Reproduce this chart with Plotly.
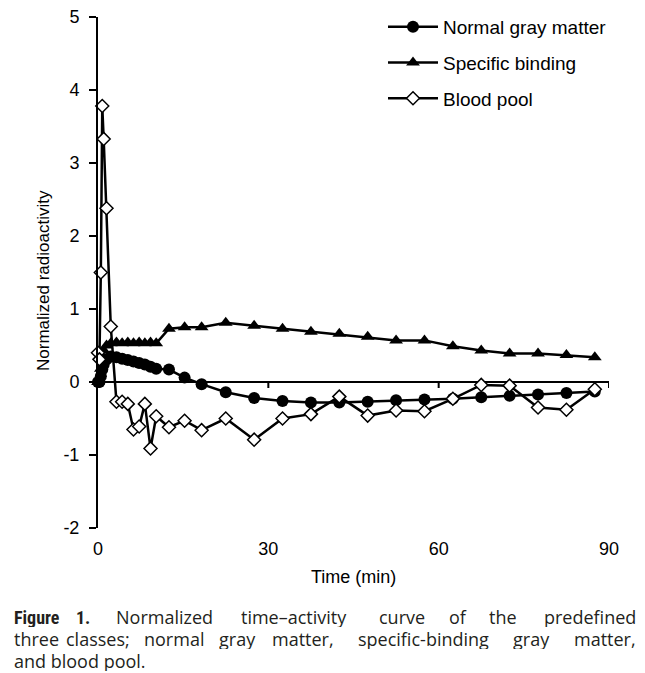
import plotly.graph_objects as go

# ---------------- data ----------------
time_min = [0, 0.25, 0.5, 0.75, 1.0, 1.5, 2.25,
            3.25, 4.25, 5.25, 6.25, 7.25, 8.25, 9.25, 10.25,
            12.5, 15.25, 18.25,
            22.5, 27.5, 32.5, 37.5, 42.5, 47.5, 52.5, 57.5, 62.5, 67.5, 72.5, 77.5, 82.5, 87.5]

normal_gray_matter = [0.0, 0.0, 0.08, 0.17, 0.24, 0.31, 0.35,
                      0.34, 0.32, 0.30, 0.28, 0.26, 0.24, 0.21, 0.18,
                      0.17, 0.06, -0.03,
                      -0.14, -0.22, -0.26, -0.28, -0.28, -0.27, -0.25, -0.24, -0.23, -0.21, -0.19, -0.17, -0.15, -0.13]

specific_binding = [0.0, 0.03, 0.18, 0.33, 0.43, 0.50, 0.53,
                    0.54, 0.53, 0.54, 0.53, 0.54, 0.53, 0.54, 0.53,
                    0.73, 0.75, 0.75,
                    0.81, 0.77, 0.73, 0.69, 0.66, 0.62, 0.57, 0.57, 0.49, 0.43, 0.39, 0.39, 0.37, 0.34]

blood_pool = [0.40, 0.31, 1.50, 3.78, 3.33, 2.38, 0.76,
              -0.27, -0.27, -0.30, -0.65, -0.61, -0.30, -0.91, -0.47,
              -0.62, -0.53, -0.66,
              -0.50, -0.79, -0.50, -0.44, -0.20, -0.46, -0.39, -0.40, -0.23, -0.04, -0.05, -0.35, -0.38, -0.10]

series_names = ["Normal gray matter", "Specific binding", "Blood pool"]
y_tick_values = [-2, -1, 0, 1, 2, 3, 4, 5]
y_tick_labels = ["-2", "-1", "0", "1", "2", "3", "4", "5"]
x_tick_values = [0, 30, 60, 90]
zero_line_ticks = [30, 60, 90]
x_title = "Time (min)"
y_title = "Normalized radioactivity"

caption_line1 = ["Figure", "1.", "Normalized", "time–activity", "curve", "of", "the", "predefined"]
caption_line2 = ["three", "classes;", "normal", "gray", "matter,", "specific-binding", "gray", "matter,"]
caption_line3 = ["and blood pool."]

# ---------------- layout geometry (pixels) ----------------
W, H = 645, 673
L, R, T, B = 98, 36, 17, 145
PW, PH = W - L - R, H - T - B


def px_x(x):
    return (x - L) / PW


def px_y(y):
    return (H - B - y) / PH


AX_FONT = "Liberation Sans, Arial, sans-serif"
CAP_FONT = "Open Sans, sans-serif"
CAP_BOLD_FONT = "Liberation Sans Narrow, Roboto Condensed, Roboto, sans-serif"
CAP_COLOR = "#231f20"

fig = go.Figure()

fig.add_trace(go.Scatter(
    x=time_min, y=normal_gray_matter, name=series_names[0], mode="lines+markers",
    line=dict(color="black", width=2.5),
    marker=dict(symbol="circle", size=12, color="black"),
    cliponaxis=False, legendgroup="a"))
fig.add_trace(go.Scatter(
    x=time_min, y=specific_binding, name=series_names[1], mode="lines+markers",
    line=dict(color="black", width=2.5),
    marker=dict(symbol="triangle-up", size=12, color="black"),
    cliponaxis=False, legendgroup="b"))
fig.add_trace(go.Scatter(
    x=time_min, y=blood_pool, name=series_names[2], mode="lines+markers",
    line=dict(color="black", width=2.5),
    marker=dict(symbol="diamond", size=10, color="white", line=dict(color="black", width=1.5)),
    cliponaxis=False, legendgroup="c"))

# ticks on the zero line
shapes = []
for xv in zero_line_ticks:
    shapes.append(dict(type="line", xref="x", yref="y", x0=xv, x1=xv,
                       ysizemode="pixel", yanchor=0, y0=0, y1=-6,
                       line=dict(color="black", width=2)))

annotations = [
    dict(text=x_title, xref="paper", yref="paper", x=0.5, y=px_y(577),
         xanchor="center", yanchor="middle", showarrow=False,
         font=dict(family=AX_FONT, size=18, color="black")),
    dict(text=y_title, xref="paper", yref="paper", x=px_x(43), y=px_y(281),
         xanchor="center", yanchor="middle", showarrow=False, textangle=-90,
         font=dict(family=AX_FONT, size=17, color="black")),
]

# caption (justified by word placement)
line1_x = [13, 75, 115, 240, 378, 448, 488, 637]
line2_x = [13, 65, 143, 218, 271, 357, 512, 637]
line_y = [617, 639, 661]
for li, (words, xs, yy) in enumerate([(caption_line1, line1_x, line_y[0]),
                                      (caption_line2, line2_x, line_y[1]),
                                      (caption_line3, [13], line_y[2])]):
    for i, (w, xx) in enumerate(zip(words, xs)):
        last = (i == len(words) - 1) and len(words) > 1
        bold = (li == 0 and i < 2)
        annotations.append(dict(
            text=f"<b>{w}</b>" if bold else w, xref="paper", yref="paper",
            x=px_x(xx), y=px_y(yy), height=20,
            xanchor="right" if last else "left", yanchor="middle", showarrow=False,
            borderpad=0,
            font=dict(family=CAP_BOLD_FONT if bold else CAP_FONT, size=18, color=CAP_COLOR)))

fig.update_layout(
    width=W, height=H,
    margin=dict(l=L, r=R, t=T, b=B, autoexpand=False),
    paper_bgcolor="white", plot_bgcolor="white",
    showlegend=True,
    legend=dict(x=px_x(383), y=px_y(8), xanchor="left", yanchor="top",
                font=dict(family=AX_FONT, size=19, color="black"),
                bgcolor="rgba(0,0,0,0)", tracegroupgap=8, itemwidth=50),
    xaxis=dict(range=[0, 90], tickvals=x_tick_values, ticks="", showline=False,
               showgrid=False, zeroline=False, ticklabelstandoff=8,
               tickfont=dict(family=AX_FONT, size=18, color="black")),
    yaxis=dict(range=[-2, 5], tickvals=y_tick_values, ticktext=y_tick_labels,
               ticks="outside", ticklen=7,
               tickwidth=2, tickcolor="black", showline=True, linecolor="black",
               linewidth=2, showgrid=False, zeroline=True, zerolinecolor="black",
               zerolinewidth=2, ticklabelstandoff=6,
               tickfont=dict(family=AX_FONT, size=18, color="black")),
    shapes=shapes,
    annotations=annotations,
)

fig.write_html("out.html", config={"displayModeBar": False},
               post_script="document.body.style.margin='0px';")
